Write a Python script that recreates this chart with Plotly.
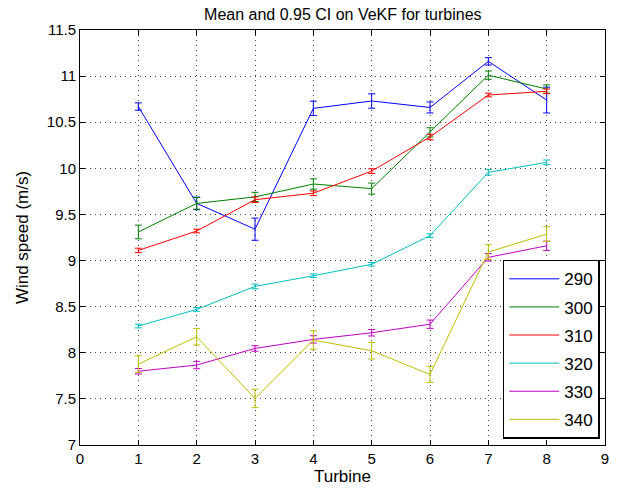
import plotly.graph_objects as go

turbines = [1, 2, 3, 4, 5, 6, 7, 8]
series_names = ["290", "300", "310", "320", "330", "340"]

mean_290 = [10.67, 9.62, 9.34, 10.65, 10.73, 10.66, 11.16, 10.74]
ci_290 = [0.04, 0.068, 0.12, 0.078, 0.078, 0.06, 0.04, 0.14]

mean_300 = [9.31, 9.62, 9.69, 9.83, 9.78, 10.39, 11.01, 10.86]
ci_300 = [0.074, 0.063, 0.05, 0.056, 0.06, 0.05, 0.045, 0.045]

mean_310 = [9.11, 9.32, 9.66, 9.73, 9.97, 10.34, 10.795, 10.835]
ci_310 = [0.024, 0.02, 0.03, 0.025, 0.025, 0.03, 0.02, 0.025]

mean_320 = [8.29, 8.47, 8.72, 8.835, 8.96, 9.27, 9.956, 10.065]
ci_320 = [0.02, 0.02, 0.025, 0.02, 0.02, 0.02, 0.03, 0.025]

mean_330 = [7.80, 7.867, 8.047, 8.145, 8.217, 8.31, 9.035, 9.16]
ci_330 = [0.03, 0.04, 0.03, 0.04, 0.035, 0.045, 0.04, 0.05]

mean_340 = [7.877, 8.174, 7.505, 8.138, 8.022, 7.765, 9.092, 9.287]
ci_340 = [0.09, 0.09, 0.1, 0.1, 0.09, 0.087, 0.08, 0.08]

means = [mean_290, mean_300, mean_310, mean_320, mean_330, mean_340]
cis = [ci_290, ci_300, ci_310, ci_320, ci_330, ci_340]
colors = ["#0000FF", "#008000", "#FF0000", "#00BFBF", "#BF00BF", "#BFBF00"]

FONT = "Liberation Sans, Arial, Helvetica, sans-serif"

fig = go.Figure()
for name, m, c, col in zip(series_names, means, cis, colors):
    fig.add_trace(go.Scatter(
        x=turbines, y=m, name=name, mode="lines",
        line=dict(color=col, width=1),
        legendgroup=name,
        error_y=dict(type="data", array=c, visible=True, color=col,
                     thickness=1, width=3.5),
    ))

axis_common = dict(
    showline=True, linecolor="black", linewidth=1, mirror="ticks",
    ticks="inside", ticklen=5, tickcolor="black",
    showgrid=True, gridcolor="rgba(0,0,0,0.75)", gridwidth=1, griddash="1px,4px",
    zeroline=False, tickfont=dict(family=FONT, size=15, color="black"),
)

fig.update_xaxes(range=[0, 9], dtick=1, tick0=0,
                 title=dict(text="Turbine", font=dict(family=FONT, size=17, color="black"), standoff=2),
                 **axis_common)
fig.update_yaxes(range=[7, 11.5], dtick=0.5, tick0=7, tickformat="~g",
                 title=dict(text="Wind speed (m/s)", font=dict(family=FONT, size=17, color="black"), standoff=13),
                 **axis_common)

fig.update_layout(
    width=629, height=492,
    margin=dict(l=80, r=24, t=30, b=47),
    paper_bgcolor="white", plot_bgcolor="white",
    title=dict(text="Mean and 0.95 CI on VeKF for turbines", x=0.545, xanchor="center",
               y=0.97, yanchor="middle",
               font=dict(family=FONT, size=16, color="black")),
    legend=dict(x=0.99, y=0.015, xanchor="right", yanchor="bottom",
                bgcolor="white", bordercolor="black", borderwidth=1.5,
                font=dict(family=FONT, size=17, color="black"),
                tracegroupgap=3, traceorder="grouped", itemwidth=50),
    showlegend=True,
)

fig.write_html("out.html")
